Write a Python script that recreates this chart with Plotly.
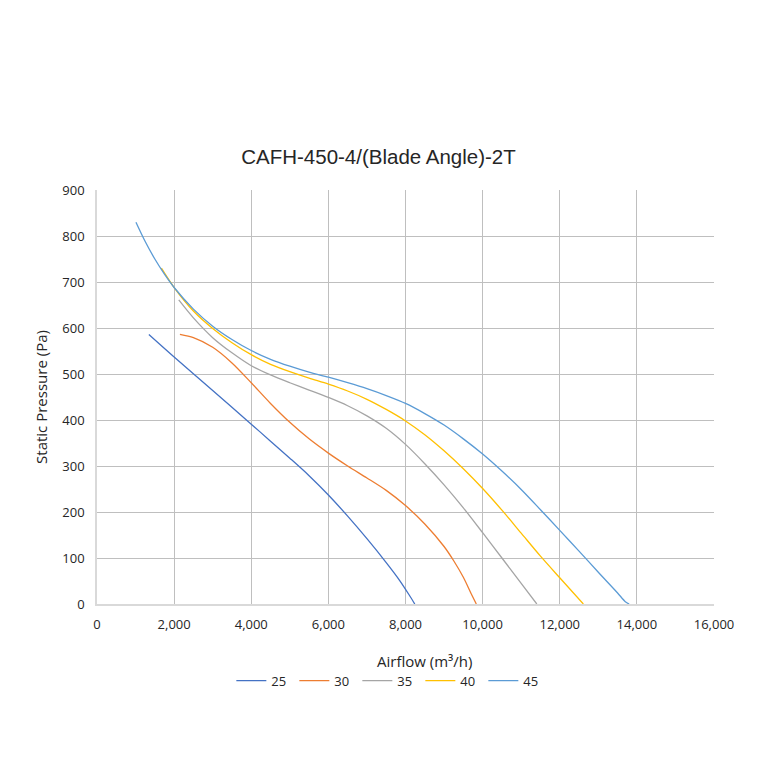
import plotly.graph_objects as go

# fan curves, airflow (m3/h) vs static pressure (Pa), one per blade angle
angles = ['25', '30', '35', '40', '45']
colors = ['#4472C4', '#ED7D31', '#A5A5A5', '#FFC000', '#5B9BD5']

flow_25 = [1345, 2000, 3000, 4000, 4500, 5000, 5500, 6000, 6500, 7000, 7500, 7850, 8100, 8240]
pres_25 = [586, 537, 464, 391, 354, 317, 279, 237, 191, 142, 90, 51, 19, 0]

flow_30 = [2150, 2500, 3000, 3500, 4000, 4500, 5000, 5500, 6000, 6500, 7000, 7500, 8000, 8500, 9000, 9250, 9500, 9700, 9836]
pres_30 = [586, 579, 558, 524, 481, 436, 395, 359, 328, 300, 274, 247, 214, 174, 125, 94, 58, 23, 0]

flow_35 = [2120, 2500, 3000, 3500, 4000, 4500, 5000, 5500, 6000, 6500, 7000, 7500, 8000, 8500, 9000, 9500, 10000, 10500, 11000, 11405]
pres_35 = [661, 622, 579, 546, 518, 498, 481, 465, 449, 431, 409, 382, 347, 305, 259, 209, 155, 100, 45, 0]

flow_40 = [1670, 2000, 2500, 3000, 3500, 4000, 4500, 5000, 5500, 6000, 6500, 7000, 7500, 8000, 8500, 9000, 9500, 10000, 10500, 11000, 11500, 12000, 12612]
pres_40 = [730, 688, 637, 599, 568, 542, 521, 505, 491, 478, 463, 445, 423, 398, 368, 333, 294, 251, 204, 154, 104, 57, 0]

flow_45 = [1010, 1250, 1500, 1750, 2000, 2500, 3000, 3500, 4000, 4500, 5000, 5500, 6000, 6500, 7000, 7500, 8000, 8500, 9000, 9500, 10000, 10500, 11000, 11500, 12000, 12500, 13000, 13500, 13700, 13800]
pres_45 = [830, 788, 750, 717, 688, 641, 604, 575, 551, 532, 517, 504, 493, 481, 468, 453, 436, 414, 389, 359, 326, 289, 249, 205, 160, 115, 69, 24, 5, 0]

flows = [flow_25, flow_30, flow_35, flow_40, flow_45]
pressures = [pres_25, pres_30, pres_35, pres_40, pres_45]

fig = go.Figure()

for name, x, y, c in zip(angles, flows, pressures, colors):
    fig.add_trace(go.Scatter(
        x=x, y=y, name=name, mode='lines',
        line=dict(color=c, width=1.3, shape='spline', smoothing=0.8)
    ))

fig.update_layout(
    width=760, height=760,
    paper_bgcolor='white', plot_bgcolor='white',
    margin=dict(l=89, r=54, t=182, b=164),
    font=dict(family='Open Sans', size=13, color='#404040'),
    title=dict(text='CAFH-450-4/(Blade Angle)-2T', x=0.4875, xanchor='center',
               y=0.804, yanchor='middle',
               font=dict(family='Liberation Sans', size=20.5, color='#262626')),
    xaxis=dict(
        range=[0, 16000], dtick=2000, tickformat=',d',
        showgrid=True, gridcolor='#BFBFBF', gridwidth=1,
        showline=True, linecolor='#D9D9D9', linewidth=1.5,
        zeroline=False, ticks='', ticklabelstandoff=8,
        tickfont=dict(size=13, color='#262626'),
    ),
    yaxis=dict(
        title=dict(text='Static Pressure (Pa)', font=dict(size=15, color='#262626'), standoff=11),
        range=[0, 900], dtick=100,
        showgrid=True, gridcolor='#BFBFBF', gridwidth=1,
        showline=True, linecolor='#D9D9D9', linewidth=1.5,
        zeroline=False, ticks='', ticklabelstandoff=8,
        tickfont=dict(size=13, color='#262626'),
    ),
    legend=dict(orientation='h', x=0.473, xanchor='center',
                y=-0.149, yanchor='top',
                font=dict(size=13, color='#262626'), itemwidth=30,
                entrywidth=18, entrywidthmode='pixels',
                traceorder='normal'),
)

# x-axis title, placed as in the original (slightly right of centre)
fig.add_annotation(text='Airflow (m³/h)', xref='paper', yref='paper',
                   x=0.53, y=-0.138, xanchor='center', yanchor='middle',
                   showarrow=False, font=dict(size=15, color='#262626'))

fig.write_html('out.html')
